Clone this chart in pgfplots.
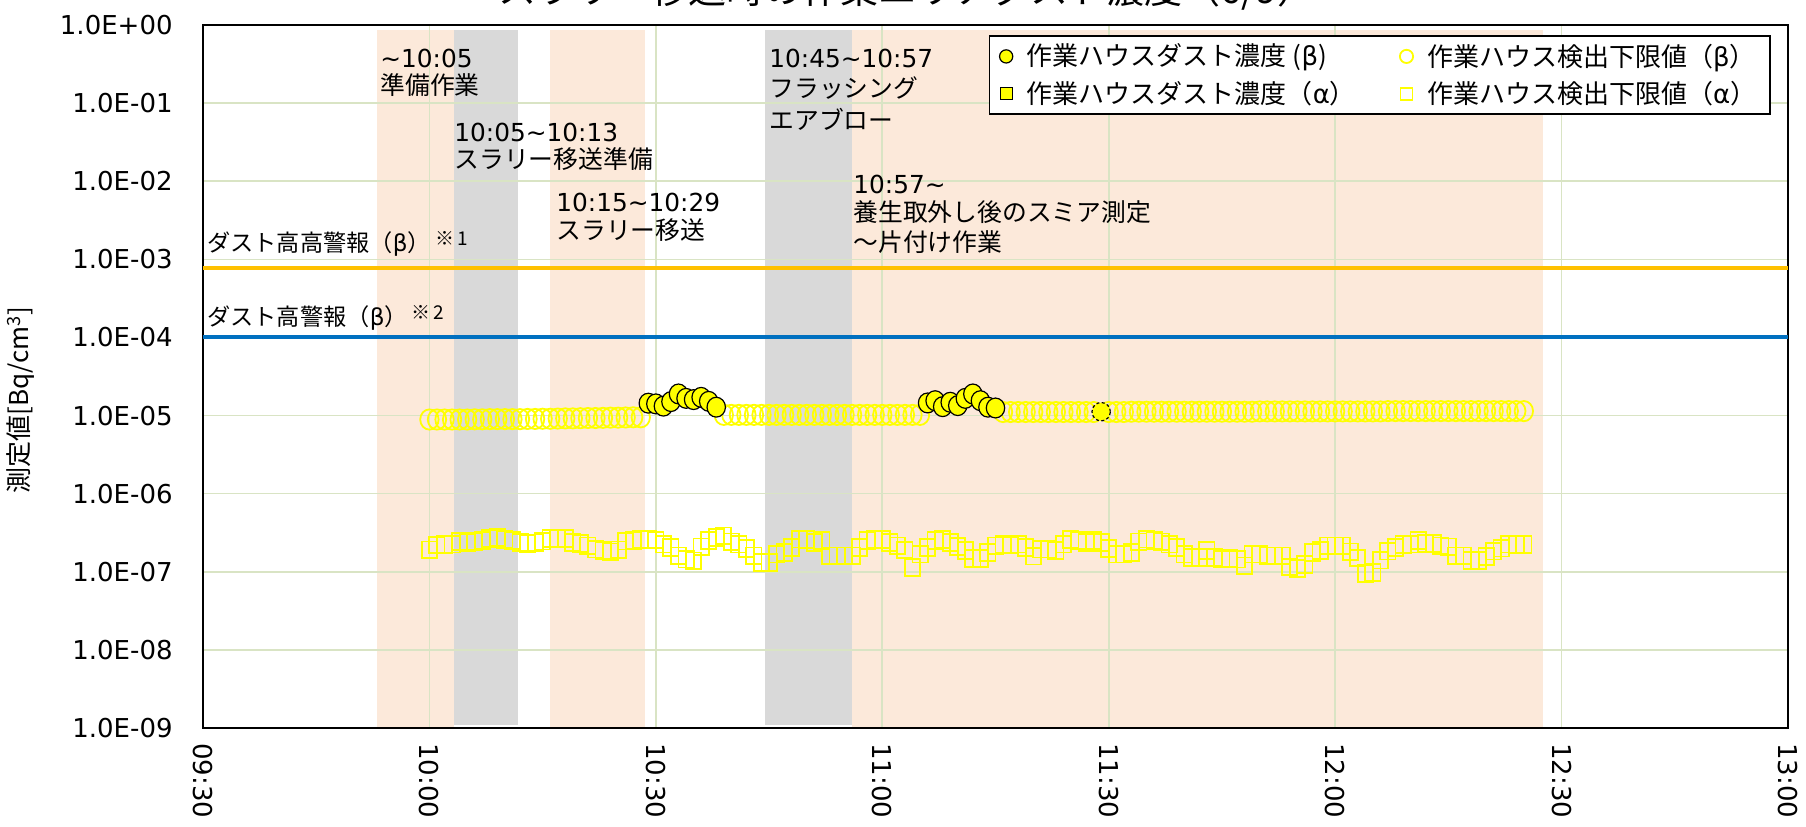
\documentclass[border=0pt]{standalone}
\usepackage{fontspec}
\setmainfont{DejaVu Sans}
\newfontfamily\jp{Noto Sans CJK JP}
\newfontfamily\dv{DejaVu Sans}
\usepackage{pgfplots}
\pgfplotsset{compat=1.18}
\usepackage{pgfplotstable}
\definecolor{gridg}{RGB}{217,228,196}
\definecolor{peach}{RGB}{252,233,218}
\definecolor{lgray}{RGB}{217,217,217}
\definecolor{thrOrange}{RGB}{255,192,0}
\definecolor{thrBlue}{RGB}{0,112,192}
\definecolor{yel}{RGB}{255,255,0}

\pgfplotstableread{
m beta alpha
30 8.90e-6 1.91e-7
31 8.90e-6 2.20e-7
32 8.90e-6 2.24e-7
33 8.90e-6 2.26e-7
34 8.90e-6 2.45e-7
35 8.90e-6 2.38e-7
36 8.95e-6 2.45e-7
37 8.95e-6 2.50e-7
38 9.00e-6 2.67e-7
39 9.00e-6 2.75e-7
40 9.00e-6 2.57e-7
41 9.00e-6 2.50e-7
42 9.00e-6 2.38e-7
43 9.05e-6 2.29e-7
44 9.05e-6 2.35e-7
45 9.10e-6 2.47e-7
46 9.10e-6 2.67e-7
47 9.15e-6 2.70e-7
48 9.20e-6 2.67e-7
49 9.20e-6 2.38e-7
50 9.25e-6 2.31e-7
51 9.30e-6 2.15e-7
52 9.30e-6 1.95e-7
53 9.35e-6 1.86e-7
54 9.40e-6 1.80e-7
55 9.40e-6 1.91e-7
56 9.45e-6 2.47e-7
57 9.50e-6 2.52e-7
58 9.50e-6 2.57e-7
59 nan 2.62e-7
60 nan 2.55e-7
61 nan 2.26e-7
62 nan 2.05e-7
63 nan 1.60e-7
64 nan 1.45e-7
65 nan 1.38e-7
66 nan 2.08e-7
67 nan 2.50e-7
68 nan 2.75e-7
69 1.02e-5 2.89e-7
70 1.02e-5 2.42e-7
71 1.02e-5 2.26e-7
72 1.02e-5 1.99e-7
73 1.02e-5 1.60e-7
74 1.02e-5 1.32e-7
75 1.02e-5 1.32e-7
76 1.02e-5 1.68e-7
77 1.02e-5 1.77e-7
78 1.02e-5 2.05e-7
79 1.02e-5 2.62e-7
80 1.02e-5 2.57e-7
81 1.02e-5 2.38e-7
82 1.02e-5 2.50e-7
83 1.02e-5 1.60e-7
84 1.02e-5 1.60e-7
85 1.02e-5 1.60e-7
86 1.02e-5 1.60e-7
87 1.02e-5 2.05e-7
88 1.02e-5 2.50e-7
89 1.02e-5 2.57e-7
90 1.02e-5 2.57e-7
91 1.02e-5 2.38e-7
92 1.02e-5 2.15e-7
93 1.02e-5 1.90e-7
94 1.02e-5 1.14e-7
95 1.02e-5 1.68e-7
96 nan 2.05e-7
97 nan 2.50e-7
98 nan 2.57e-7
99 nan 2.38e-7
100 nan 2.11e-7
101 nan 1.86e-7
102 nan 1.48e-7
103 nan 1.48e-7
104 nan 1.77e-7
105 nan 2.15e-7
106 1.11e-5 2.26e-7
107 1.11e-5 2.20e-7
108 1.11e-5 2.26e-7
109 1.11e-5 2.05e-7
110 1.11e-5 1.59e-7
111 1.11e-5 1.95e-7
112 1.11e-5 1.95e-7
113 1.11e-5 1.86e-7
114 1.11e-5 2.26e-7
115 1.11e-5 2.57e-7
116 1.11e-5 2.50e-7
117 1.11e-5 2.38e-7
118 1.11e-5 2.50e-7
119 nan 2.38e-7
120 1.11e-5 1.99e-7
121 1.11e-5 1.68e-7
122 1.11e-5 1.68e-7
123 1.12e-5 1.77e-7
124 1.12e-5 2.42e-7
125 1.12e-5 2.62e-7
126 1.12e-5 2.50e-7
127 1.12e-5 2.42e-7
128 1.12e-5 2.26e-7
129 1.12e-5 2.05e-7
130 1.12e-5 1.68e-7
131 1.12e-5 1.53e-7
132 1.12e-5 1.53e-7
133 1.12e-5 1.86e-7
134 1.12e-5 1.53e-7
135 1.12e-5 1.45e-7
136 1.12e-5 1.48e-7
137 1.12e-5 1.45e-7
138 1.12e-5 1.19e-7
139 1.12e-5 1.68e-7
140 1.13e-5 1.68e-7
141 1.13e-5 1.60e-7
142 1.13e-5 1.60e-7
143 1.13e-5 1.60e-7
144 1.13e-5 1.15e-7
145 1.13e-5 1.10e-7
146 1.13e-5 1.23e-7
147 1.13e-5 1.77e-7
148 1.13e-5 1.86e-7
149 1.13e-5 2.15e-7
150 1.13e-5 2.15e-7
151 1.13e-5 2.15e-7
152 1.13e-5 1.80e-7
153 1.13e-5 1.50e-7
154 1.13e-5 0.95e-7
155 1.13e-5 0.98e-7
156 1.13e-5 1.41e-7
157 1.14e-5 1.84e-7
158 1.14e-5 2.03e-7
159 1.14e-5 2.22e-7
160 1.14e-5 2.26e-7
161 1.14e-5 2.50e-7
162 1.14e-5 2.31e-7
163 1.14e-5 2.29e-7
164 1.14e-5 2.15e-7
165 1.14e-5 2.09e-7
166 1.14e-5 1.60e-7
167 1.14e-5 1.60e-7
168 1.14e-5 1.40e-7
169 1.14e-5 1.40e-7
170 1.14e-5 1.57e-7
171 1.14e-5 1.84e-7
172 1.14e-5 2.01e-7
173 1.14e-5 2.26e-7
174 1.14e-5 2.24e-7
175 1.14e-5 2.24e-7
}\dl

\pgfplotstableread{
m val
59 1.44e-5
60 1.41e-5
61 1.32e-5
62 1.51e-5
63 1.89e-5
64 1.66e-5
65 1.60e-5
66 1.71e-5
67 1.52e-5
68 1.28e-5
96 1.45e-5
97 1.55e-5
98 1.30e-5
99 1.48e-5
100 1.34e-5
101 1.66e-5
102 1.89e-5
103 1.55e-5
104 1.28e-5
105 1.25e-5
}\det

\newcommand{\an}{\fontsize{12.4}{14}\selectfont}

\begin{document}
\begin{tikzpicture}
\begin{axis}[
  set layers,
  scale only axis, width=792.5pt, height=351.5pt,
  at={(0,0)}, anchor=south west,
  xmin=0, xmax=210, ymode=log, ymin=1e-9, ymax=1,
  xtick={0,30,...,210},
  xticklabels={09:30,10:00,10:30,11:00,11:30,12:00,12:30,13:00},
  ytick={1e-9,1e-8,1e-7,1e-6,1e-5,1e-4,1e-3,1e-2,1e-1,1},
  yticklabels={1.0E-09,1.0E-08,1.0E-07,1.0E-06,1.0E-05,1.0E-04,1.0E-03,1.0E-02,1.0E-01,1.0E+00},
  major tick length=0pt, minor tick length=0pt,
  xmajorgrids, ymajorgrids,
  major grid style={draw=gridg, line width=0.8pt},
  axis line style={line width=1pt},
  xticklabel style={rotate=-90, anchor=west, font=\dv\fontsize{13}{15}\selectfont, inner sep=0pt},
  xticklabel shift=7.5pt,
  yticklabel style={anchor=east, font=\dv\fontsize{13}{15}\selectfont, inner sep=0pt},
  yticklabel shift=15pt,
  legend columns=2,
  legend cell align=left,
  legend image code/.code={\draw[#1] plot coordinates {(4pt,0pt)};},
  legend style={at={(0.9893,0.9858)}, anchor=north east, draw=black, line width=0.8pt, fill=white,
    font=\jp\fontsize{13}{15}\selectfont, inner xsep=5pt, inner ysep=2pt, row sep=2pt,
    /tikz/every even column/.append style={column sep=20pt},
    /tikz/every odd column/.append style={column sep=5pt}},
]
% shaded work periods
\addplot[on layer=axis background, fill=peach, draw=none, forget plot] coordinates {(23,1e-9) (33.2,1e-9) (33.2,0.86) (23,0.86)} -- cycle;
\addplot[on layer=axis background, fill=lgray, draw=none, forget plot] coordinates {(33.2,1.1e-9) (41.8,1.1e-9) (41.8,0.86) (33.2,0.86)} -- cycle;
\addplot[on layer=axis background, fill=peach, draw=none, forget plot] coordinates {(46,1e-9) (58.6,1e-9) (58.6,0.86) (46,0.86)} -- cycle;
\addplot[on layer=axis background, fill=lgray, draw=none, forget plot] coordinates {(74.5,1.1e-9) (86,1.1e-9) (86,0.86) (74.5,0.86)} -- cycle;
\addplot[on layer=axis background, fill=peach, draw=none, forget plot] coordinates {(86,1e-9) (177.5,1e-9) (177.5,0.86) (86,0.86)} -- cycle;
% alarm levels
\addplot[thrOrange, line width=2pt, forget plot] coordinates {(0,7.7e-4) (210,7.7e-4)};
\addplot[thrBlue, line width=2pt, forget plot] coordinates {(0,1e-4) (210,1e-4)};
% detection limits
\addplot[only marks, mark=o, mark size=4.6pt, mark options={draw=yel, line width=0.9pt, yscale=1.1}, forget plot] table[x=m, y=beta] {\dl};
\addplot[only marks, mark=square, mark size=3.8pt, mark options={draw=yel, line width=0.9pt, yscale=1.1}, forget plot] table[x=m, y=alpha] {\dl};
% detected beta
\addplot[only marks, mark=*, mark size=4.6pt, mark options={fill=yel, draw=black, line width=0.6pt, yscale=1.08}, forget plot] table[x=m, y=val] {\det};
\addplot[only marks, mark=*, mark size=4.6pt, mark options={fill=yel, draw=black, line width=0.6pt, dash pattern=on 1.5pt off 1.2pt}, forget plot] coordinates {(119,1.12e-5)};
% legend
\addlegendimage{only marks, mark=*, mark size=3.3pt, mark options={fill=yel, draw=black, line width=0.6pt}}
\addlegendentry{作業ハウスダスト濃度\hspace{3pt}({\dv β})}
\addlegendimage{only marks, mark=o, mark size=3.3pt, mark options={draw=yel, line width=0.9pt}}
\addlegendentry{作業ハウス検出下限値（{\dv β}）}
\addlegendimage{only marks, mark=square*, mark size=3pt, mark options={fill=yel, draw=black, line width=0.6pt}}
\addlegendentry{作業ハウスダスト濃度（{\dv α}）}
\addlegendimage{only marks, mark=square, mark size=3pt, mark options={draw=yel, line width=0.9pt}}
\addlegendentry{作業ハウス検出下限値（{\dv α}）}
\end{axis}

% title (clipped at the top, as in the reference)
\node[anchor=base, font=\jp\fontsize{19}{22}\selectfont] at (352pt,362pt) {スラリー移送時の作業エリアダスト濃度（6/9）};
% y label
\node[rotate=90, font=\jp\fontsize{13}{15}\selectfont] at (-91pt,164pt) {測定値[Bq/cm\textsuperscript{3}]};
% alarm labels
\node[anchor=west, font=\jp\fontsize{11.6}{14}\selectfont, inner sep=0pt] at (2pt,242pt) {ダスト高高警報（{\dv β}）\hspace{2pt}\raisebox{3pt}{\fontsize{9.5}{10}\selectfont ※\,1}};
\node[anchor=west, font=\jp\fontsize{11.6}{14}\selectfont, inner sep=0pt] at (2pt,205pt) {ダスト高警報（{\dv β}）\hspace{2pt}\raisebox{3pt}{\fontsize{9.5}{10}\selectfont ※\,2}};
% work annotations
\node[anchor=west, font=\dv\an, inner sep=0pt] at (88.5pt,335pt) {\textasciitilde10:05};
\node[anchor=west, font=\jp\an, inner sep=0pt] at (88.5pt,321.5pt) {準備作業};
\node[anchor=west, font=\dv\an, inner sep=0pt] at (125.5pt,298pt) {10:05\textasciitilde10:13};
\node[anchor=west, font=\jp\an, inner sep=0pt] at (125.5pt,284.5pt) {スラリー移送準備};
\node[anchor=west, font=\dv\an, inner sep=0pt] at (176.5pt,263pt) {10:15\textasciitilde10:29};
\node[anchor=west, font=\jp\an, inner sep=0pt] at (176.5pt,249pt) {スラリー移送};
\node[anchor=west, font=\dv\an, inner sep=0pt] at (283pt,335pt) {10:45\textasciitilde10:57};
\node[anchor=west, font=\jp\an, inner sep=0pt] at (283pt,320pt) {フラッシング};
\node[anchor=west, font=\jp\an, inner sep=0pt] at (283pt,304.5pt) {エアブロー};
\node[anchor=west, font=\dv\an, inner sep=0pt] at (325pt,272pt) {10:57\textasciitilde};
\node[anchor=west, font=\jp\an, inner sep=0pt] at (325pt,258pt) {養生取外し後のスミア測定};
\node[anchor=west, font=\jp\an, inner sep=0pt] at (325pt,243pt) {～片付け作業};

\pgfresetboundingbox
\useasboundingbox (-101.5pt,-49pt) rectangle (801.5pt,364pt);
\end{tikzpicture}
\end{document}
